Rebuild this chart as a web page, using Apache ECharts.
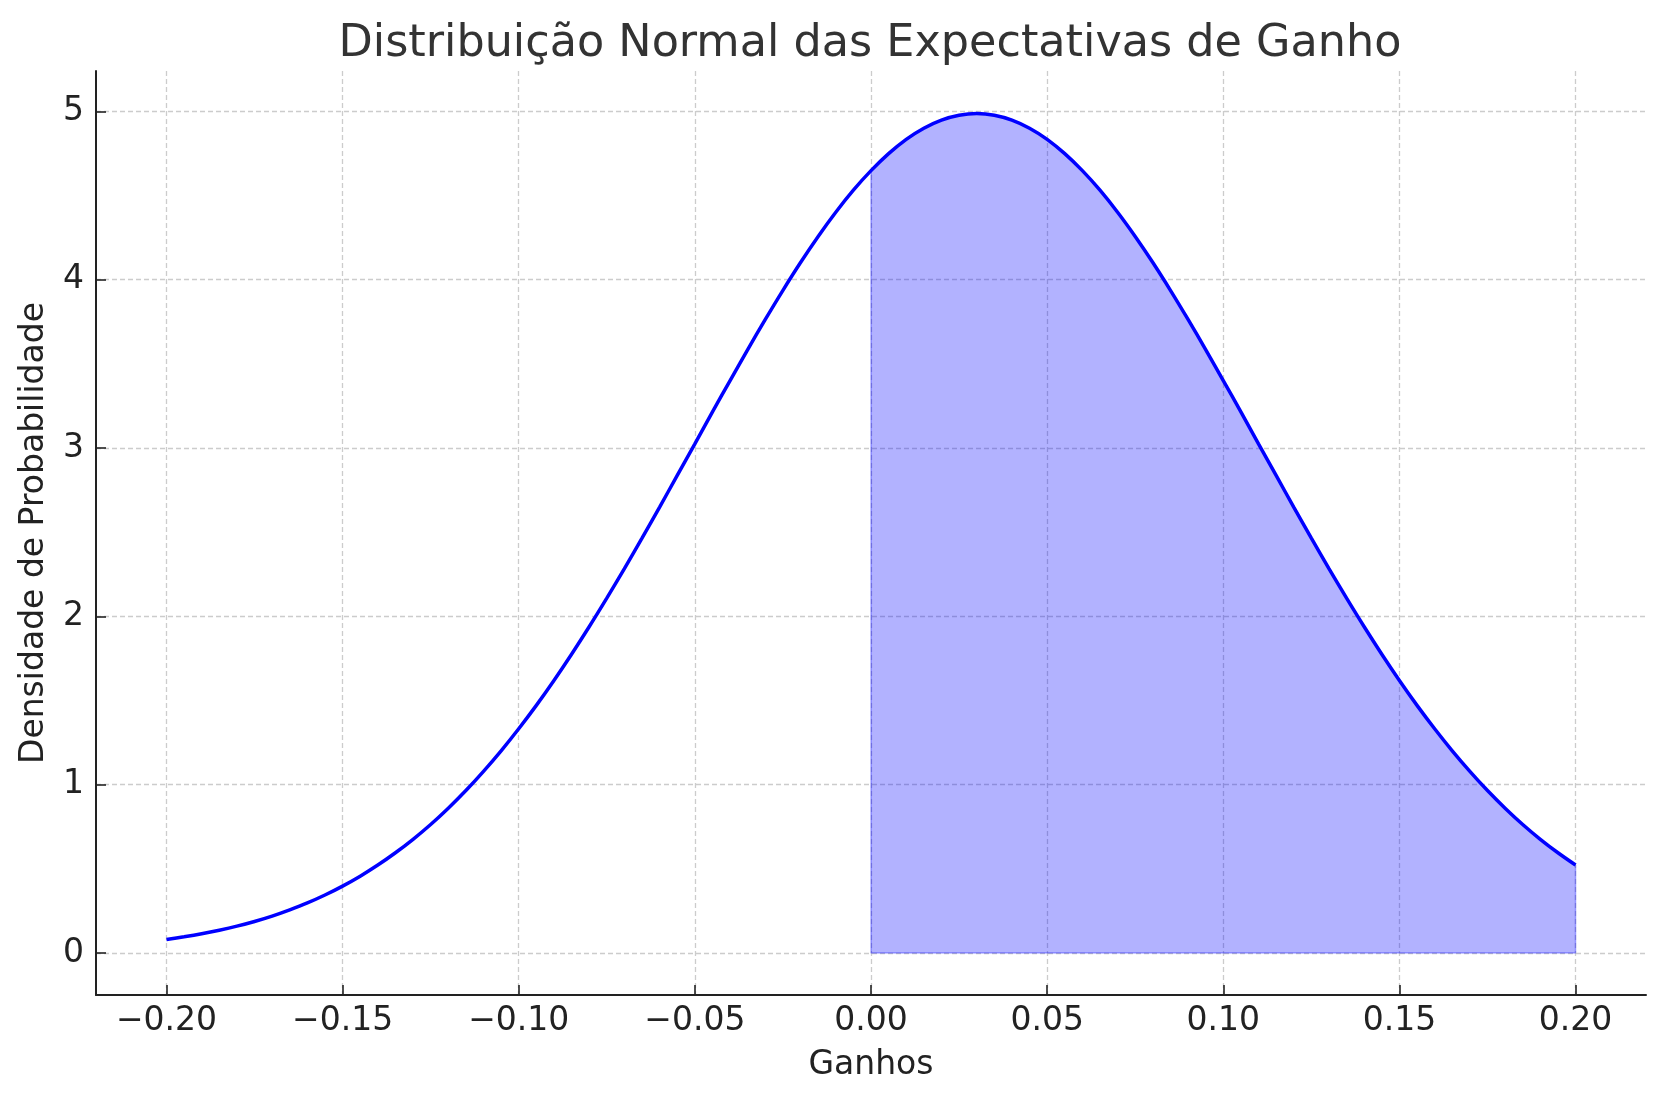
<!DOCTYPE html>
<html>
<head>
<meta charset="utf-8">
<title>Distribuição Normal das Expectativas de Ganho</title>
<script src="https://cdn.jsdelivr.net/npm/echarts@6/dist/echarts.min.js"></script>
<style>
  html, body { margin: 0; padding: 0; background: #fff; }
  #chart { width: 1665px; height: 1102px; }
</style>
</head>
<body>
<div id="chart"></div>
<script>
// ganhos (eixo x) e densidade, passo 0.005
const gains = [
  -0.200, -0.195, -0.190, -0.185, -0.180, -0.175, -0.170, -0.165, -0.160, -0.155,
  -0.150, -0.145, -0.140, -0.135, -0.130, -0.125, -0.120, -0.115, -0.110, -0.105,
  -0.100, -0.095, -0.090, -0.085, -0.080, -0.075, -0.070, -0.065, -0.060, -0.055,
  -0.050, -0.045, -0.040, -0.035, -0.030, -0.025, -0.020, -0.015, -0.010, -0.005,
  0.000, 0.005, 0.010, 0.015, 0.020, 0.025, 0.030, 0.035, 0.040, 0.045,
  0.050, 0.055, 0.060, 0.065, 0.070, 0.075, 0.080, 0.085, 0.090, 0.095,
  0.100, 0.105, 0.110, 0.115, 0.120, 0.125, 0.130, 0.135, 0.140, 0.145,
  0.150, 0.155, 0.160, 0.165, 0.170, 0.175, 0.180, 0.185, 0.190, 0.195, 0.200
]
const density = [
  0.080, 0.096, 0.114, 0.135, 0.159, 0.187, 0.219, 0.256, 0.297, 0.344,
  0.397, 0.456, 0.522, 0.595, 0.675, 0.763, 0.860, 0.965, 1.079, 1.201,
  1.332, 1.471, 1.619, 1.775, 1.938, 2.108, 2.283, 2.464, 2.649, 2.837,
  3.025, 3.215, 3.401, 3.585, 3.764, 3.937, 4.102, 4.257, 4.401, 4.532,
  4.648, 4.749, 4.834, 4.900, 4.948, 4.977, 4.987, 4.977, 4.948, 4.900,
  4.834, 4.749, 4.648, 4.532, 4.401, 4.257, 4.102, 3.937, 3.764, 3.585,
  3.401, 3.215, 3.025, 2.837, 2.649, 2.464, 2.283, 2.108, 1.938, 1.775,
  1.619, 1.471, 1.332, 1.201, 1.079, 0.965, 0.860, 0.763, 0.675, 0.595, 0.522
]
const xTicks = [-0.20, -0.15, -0.10, -0.05, 0.00, 0.05, 0.10, 0.15, 0.20]
const yTicks = [0, 1, 2, 3, 4, 5]
const fillFrom = 0.00

const FONT = 'DejaVu Sans'
const curve = gains.map((x, i) => [x, density[i]])
const filled = curve.filter(p => p[0] >= fillFrom - 1e-9)
const first = filled[0]
const last = filled[filled.length - 1]
// contorno do preenchimento (lado esquerdo, base, lado direito)
const fillEdge = [[first[0], first[1]], [first[0], 0], [last[0], 0], [last[0], last[1]]]

const gridLine = { show: true, lineStyle: { color: '#cccccc', width: 1.3, type: [5, 3] } }

const option = {
  animation: false,
  backgroundColor: '#ffffff',
  title: {
    text: 'Distribuição Normal das Expectativas de Ganho',
    left: 865,
    textAlign: 'center',
    top: 17,
    textStyle: { fontFamily: FONT, fontSize: 44.5, fontWeight: 'normal', color: '#333333' }
  },
  grid: { left: 96, right: 19, top: 71, bottom: 107, containLabel: false },
  xAxis: {
    type: 'value',
    min: -0.22,
    max: 0.22,
    name: 'Ganhos',
    nameLocation: 'middle',
    nameGap: 54,
    nameTextStyle: { fontFamily: FONT, fontSize: 33, color: '#222222' },
    axisLine: { show: true, onZero: false, lineStyle: { color: '#222222', width: 2 } },
    axisTick: { show: true, inside: true, length: 10, customValues: xTicks, lineStyle: { color: '#222222', width: 1.6 } },
    axisLabel: {
      customValues: xTicks,
      margin: 10,
      fontFamily: FONT,
      fontSize: 33,
      color: '#222222',
      formatter: v => (v < -1e-9 ? '\u2212' : '') + Math.abs(v).toFixed(2)
    },
    splitLine: gridLine
  },
  yAxis: {
    type: 'value',
    min: -0.25,
    max: 5.24,
    name: 'Densidade de Probabilidade',
    nameLocation: 'middle',
    nameGap: 45,
    nameTextStyle: { fontFamily: FONT, fontSize: 33, color: '#222222' },
    axisLine: { show: true, onZero: false, lineStyle: { color: '#222222', width: 2 } },
    axisTick: { show: true, inside: true, length: 10, customValues: yTicks, lineStyle: { color: '#222222', width: 1.6 } },
    axisLabel: {
      customValues: yTicks,
      margin: 12,
      fontFamily: FONT,
      fontSize: 33,
      color: '#222222',
      formatter: v => String(Math.round(v))
    },
    splitLine: gridLine
  },
  series: [
    {
      name: 'area',
      type: 'line',
      data: filled,
      smooth: 0.3,
      symbol: 'none',
      lineStyle: { width: 0 },
      areaStyle: { color: 'rgba(0,0,255,0.3)', opacity: 1 },
      z: 2
    },
    {
      name: 'edge',
      type: 'line',
      data: fillEdge,
      symbol: 'none',
      lineStyle: { color: 'rgba(0,0,255,0.3)', width: 1.5 },
      z: 2
    },
    {
      name: 'curva',
      type: 'line',
      data: curve,
      smooth: 0.3,
      symbol: 'none',
      lineStyle: { color: '#0000ff', width: 3.5 },
      z: 3
    }
  ]
}

const chart = echarts.init(document.getElementById('chart'), null, { renderer: 'canvas' })
chart.setOption(option)
</script>
</body>
</html>
